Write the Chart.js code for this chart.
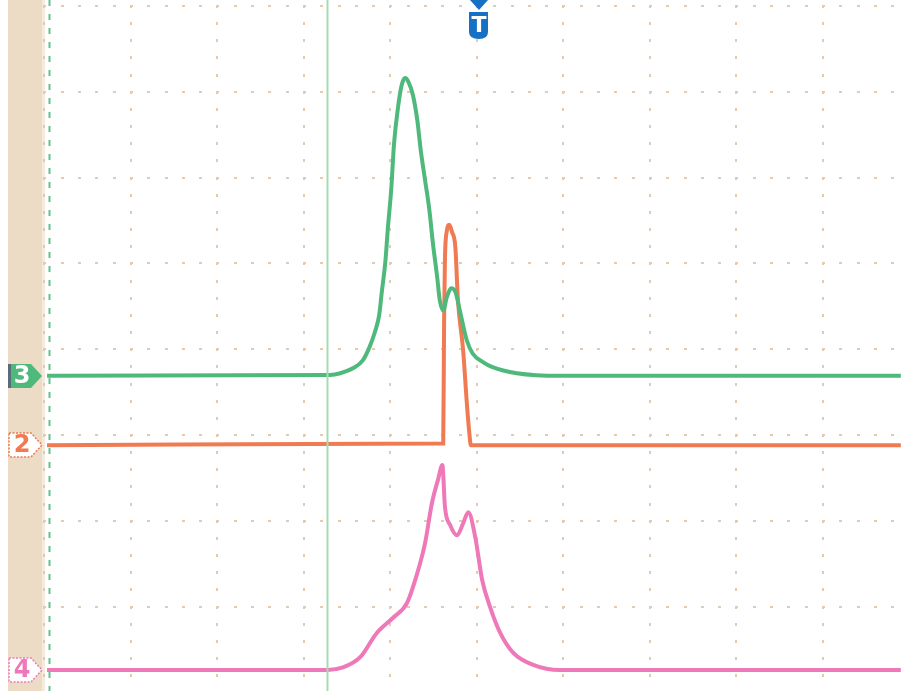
<!DOCTYPE html>
<html>
<head>
<meta charset="utf-8">
<script src="https://cdn.jsdelivr.net/npm/chart.js@4.4.1/dist/chart.umd.min.js"></script>
<style>
  html, body { margin: 0; padding: 0; background: #fff; }
  #wrap { width: 901px; height: 691px; position: relative; }
</style>
</head>
<body>
<div id="wrap"><canvas id="scope"></canvas></div>
<script>
// Scope capture - values in screen divisions (x: time div, y: vertical div, 0 = centre)

const ch3Time  = [0.03, 3.30, 3.42, 3.57, 3.68, 3.76, 3.82, 3.87, 3.90, 3.94, 3.97, 4.01, 4.04, 4.09, 4.13, 4.17, 4.21, 4.26, 4.31, 4.35, 4.40, 4.45, 4.49, 4.54, 4.57, 4.61, 4.65, 4.70, 4.75, 4.80, 4.88, 4.95, 5.07, 5.18, 5.46, 5.96, 9.90];
const ch3Level = [-0.31, -0.30, -0.28, -0.22, -0.13, 0.03, 0.20, 0.40, 0.67, 1.01, 1.41, 1.88, 2.38, 2.84, 3.08, 3.16, 3.11, 2.96, 2.67, 2.32, 1.97, 1.62, 1.24, 0.84, 0.57, 0.45, 0.60, 0.71, 0.67, 0.46, 0.11, -0.05, -0.15, -0.21, -0.28, -0.31, -0.31];

const ch2Time  = [0.03, 4.60, 4.61, 4.62, 4.63, 4.65, 4.68, 4.71, 4.75, 4.78, 4.84, 4.88, 4.91, 4.93, 9.90];
const ch2Level = [-1.12, -1.10, -1.10, 0.34, 1.06, 1.37, 1.45, 1.37, 1.19, 0.57, -0.01, -0.59, -0.96, -1.12, -1.12];

const ch4Time  = [0.03, 3.27, 3.45, 3.65, 3.84, 4.03, 4.19, 4.31, 4.40, 4.48, 4.55, 4.60, 4.63, 4.69, 4.77, 4.84, 4.90, 4.98, 5.06, 5.15, 5.27, 5.42, 5.65, 5.96, 9.90];
const ch4Level = [-3.74, -3.74, -3.71, -3.59, -3.31, -3.13, -2.96, -2.61, -2.26, -1.79, -1.52, -1.35, -1.84, -2.05, -2.17, -2.03, -1.90, -2.19, -2.69, -3.00, -3.31, -3.54, -3.68, -3.74, -3.74];

const channelNames   = ['3', '2', '4'];
const channelOffsets = [-0.31, -1.12, -3.74];
const channelColors  = ['#4fb97c', '#f07a52', '#ee78b8'];

const triggerPos = 5.02;
const cursorA = 0.05;   // dashed
const cursorB = 3.27;   // solid

const X_MIN = -0.514, X_MAX = 9.902;
const Y_MIN = -3.984, Y_MAX = 4.07;

function pairs(xs, ys) {
  return xs.map((x, i) => ({ x, y: ys[i] }));
}

// background strip + dotted graticule
const graticule = {
  id: 'graticule',
  beforeDatasetsDraw(chart) {
    const { ctx, scales: { x, y }, chartArea: a } = chart;
    ctx.save();
    ctx.fillStyle = '#ecdcc5';
    ctx.fillRect(8, a.top, 34, a.bottom - a.top);
    ctx.fillStyle = '#f4ebdd';
    ctx.fillRect(42, a.top, 3, a.bottom - a.top);

    ctx.fillStyle = '#e2cbb0';
    for (let d = 0; d <= 10; d++) {
      const px = x.getPixelForValue(d);
      for (let v = Y_MIN; v <= Y_MAX; v += 0.2) {
        const py = y.getPixelForValue(Math.round(v * 5) / 5);
        ctx.fillRect(Math.round(px) - 1, Math.round(py) - 1, 2, 3);
      }
    }
    for (let v = -4; v <= 4; v++) {
      const py = y.getPixelForValue(v);
      for (let t = 0; t <= 10; t += 0.2) {
        const px = x.getPixelForValue(t);
        ctx.fillRect(Math.round(px) - 1, Math.round(py) - 1, 3, 2);
      }
    }
    ctx.restore();
  },
  afterDatasetsDraw(chart) {
    const { ctx, scales: { x, y }, chartArea: a } = chart;
    ctx.save();
    // cursors
    let px = Math.round(x.getPixelForValue(cursorB)) + 0.5;
    ctx.strokeStyle = '#a6dbb2';
    ctx.lineWidth = 2;
    ctx.beginPath(); ctx.moveTo(px, a.top); ctx.lineTo(px, a.bottom); ctx.stroke();

    px = Math.round(x.getPixelForValue(cursorA)) + 0.5;
    ctx.strokeStyle = '#62c28e';
    ctx.setLineDash([6, 8]);
    ctx.beginPath(); ctx.moveTo(px, a.top); ctx.lineTo(px, a.bottom); ctx.stroke();
    ctx.setLineDash([]);

    // channel markers
    ctx.font = 'bold 24px "DejaVu Sans", sans-serif';
    ctx.textAlign = 'center';
    ctx.textBaseline = 'middle';
    channelNames.forEach((name, i) => {
      const py = Math.round(y.getPixelForValue(channelOffsets[i]));
      const col = channelColors[i];
      const path = new Path2D();
      path.moveTo(9, py - 12);
      path.lineTo(31, py - 12);
      path.lineTo(42, py);
      path.lineTo(31, py + 12);
      path.lineTo(9, py + 12);
      path.closePath();
      if (i === 0) {
        ctx.fillStyle = col;
        ctx.fill(path);
        ctx.fillStyle = '#5b6b78';
        ctx.fillRect(8, py - 12, 3, 24);
        ctx.fillStyle = '#ffffff';
      } else {
        ctx.fillStyle = '#ffffff';
        ctx.fill(path);
        ctx.strokeStyle = col;
        ctx.lineWidth = 1.5;
        ctx.setLineDash([2, 1.5]);
        ctx.stroke(path);
        ctx.setLineDash([]);
        ctx.fillStyle = col;
      }
      ctx.fillText(name, 22, py + 1);
    });

    // trigger marker
    const tx = Math.round(x.getPixelForValue(triggerPos));
    ctx.fillStyle = '#1670c4';
    ctx.beginPath();
    ctx.moveTo(tx - 9, a.top); ctx.lineTo(tx + 9, a.top); ctx.lineTo(tx, a.top + 10);
    ctx.closePath(); ctx.fill();
    ctx.beginPath();
    ctx.moveTo(tx - 10, a.top + 12);
    ctx.lineTo(tx + 9, a.top + 12);
    ctx.lineTo(tx + 9, a.top + 32);
    ctx.quadraticCurveTo(tx + 9, a.top + 39, tx, a.top + 39);
    ctx.quadraticCurveTo(tx - 10, a.top + 39, tx - 10, a.top + 32);
    ctx.closePath(); ctx.fill();
    ctx.fillStyle = '#ffffff';
    ctx.font = 'bold 22px "DejaVu Sans", sans-serif';
    ctx.fillText('T', tx, a.top + 26);
    ctx.restore();
  }
};

function traceSet(label, xs, ys, color) {
  return {
    label,
    data: pairs(xs, ys),
    borderColor: color,
    backgroundColor: color,
    borderWidth: 4,
    pointRadius: 0,
    showLine: true,
    fill: false,
    cubicInterpolationMode: 'monotone'
  };
}

new Chart(document.getElementById('scope').getContext('2d'), {
  type: 'scatter',
  data: {
    datasets: [
      traceSet('CH3', ch3Time, ch3Level, channelColors[0]),
      traceSet('CH2', ch2Time, ch2Level, channelColors[1]),
      traceSet('CH4', ch4Time, ch4Level, channelColors[2])
    ]
  },
  options: {
    responsive: true,
    maintainAspectRatio: false,
    animation: false,
    layout: { padding: 0 },
    plugins: { legend: { display: false }, tooltip: { enabled: false } },
    scales: {
      x: { type: 'linear', min: X_MIN, max: X_MAX, display: false },
      y: { type: 'linear', min: Y_MIN, max: Y_MAX, display: false }
    }
  },
  plugins: [graticule]
});
</script>
</body>
</html>
